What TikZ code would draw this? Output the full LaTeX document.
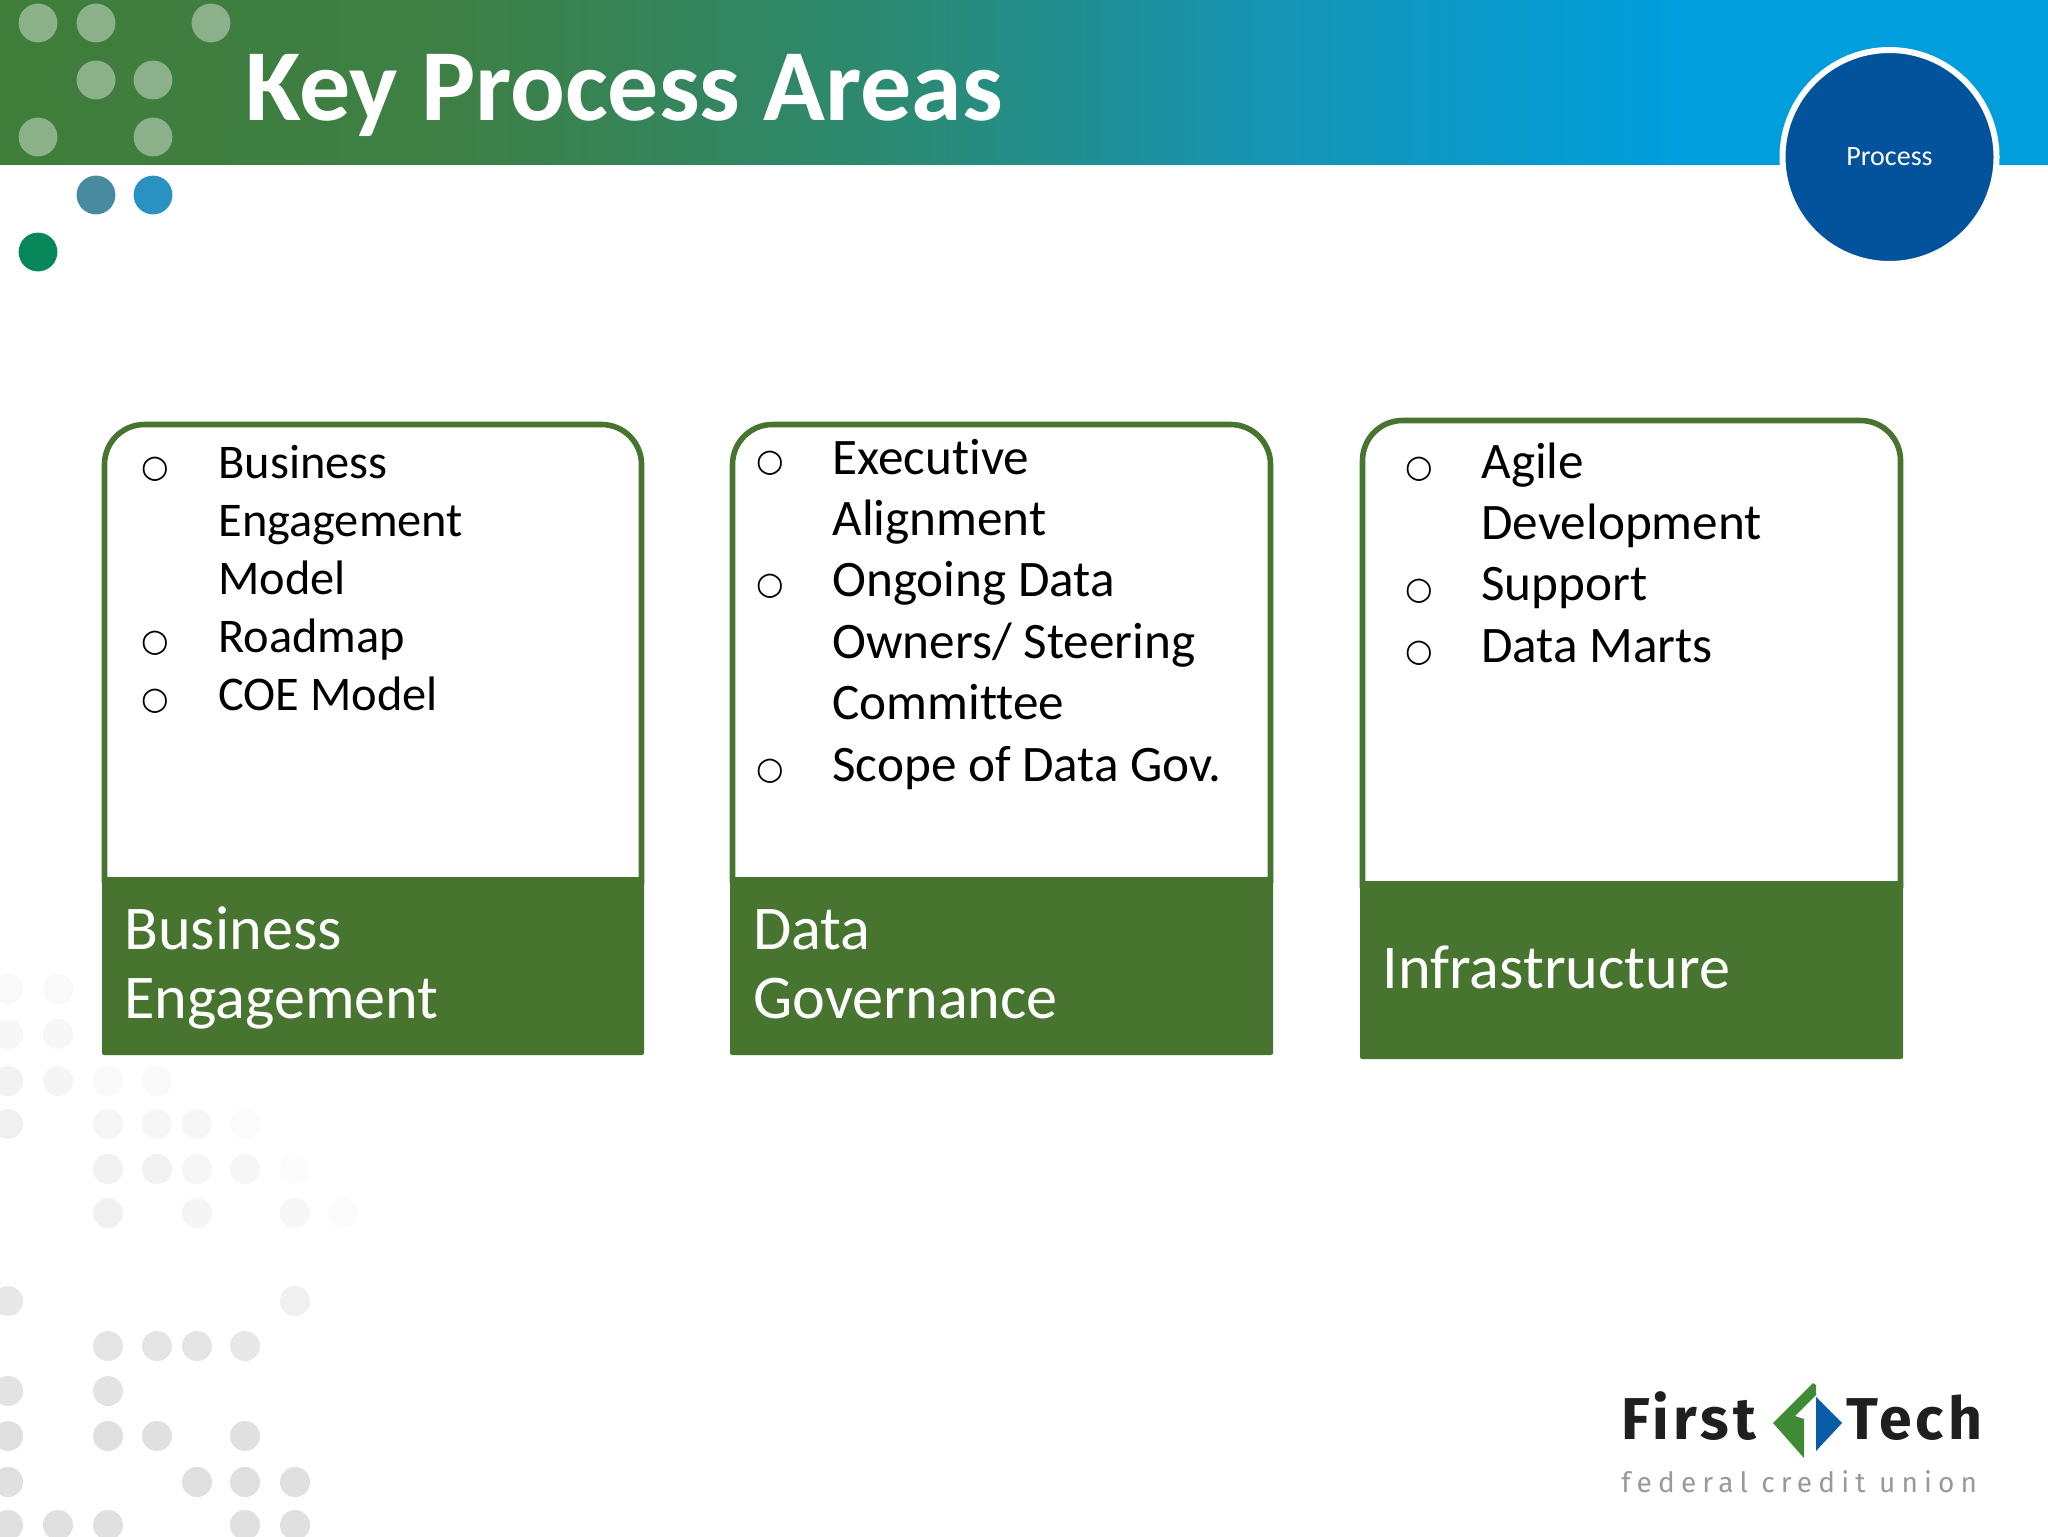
\documentclass[tikz,border=0pt]{standalone}
\usepackage{fontspec}
\setmainfont[Ligatures={NoCommon}]{Carlito}
\newfontfamily\bulletfont{DejaVu Sans}
\newfontfamily\logofont[LetterSpace=7]{Fira Sans}
\newfontfamily\logosub[LetterSpace=22]{Fira Sans}
\definecolor{hA}{HTML}{3F7D3A}
\definecolor{hB}{HTML}{3E7F45}
\definecolor{hC}{HTML}{2B8A72}
\definecolor{hD}{HTML}{1694B4}
\definecolor{hE}{HTML}{009EDC}
\definecolor{boxgreen}{HTML}{47752F}
\definecolor{procblue}{HTML}{03529C}
\definecolor{dotA}{HTML}{4A8AA0}
\definecolor{dotB}{HTML}{2A92C2}
\definecolor{dotC}{HTML}{08875A}
\definecolor{logoG}{HTML}{3F8A34}
\definecolor{logoB}{HTML}{0B5CA8}
\pgfdeclarehorizontalshading{hdr}{100bp}{color(0bp)=(hA); color(25bp)=(hA); color(36bp)=(hB); color(47bp)=(hC); color(56bp)=(hD); color(66bp)=(hE); color(100bp)=(hE)}
\tikzset{
  x=0.5pt,y=-0.5pt,
  tdot/.style={fill=white,fill opacity=0.4},
  ln/.style={anchor=base west,inner sep=0pt,text=black,font=\fontsize{24.2pt}{28pt}\selectfont},
  lnb/.style={anchor=base west,inner sep=0pt,text=black,font=\fontsize{25.6pt}{30pt}\selectfont},
  bul/.style={anchor=base,inner sep=0pt,text=black,font=\bulletfont\fontsize{15.8pt}{20pt}\selectfont},
  cardframe/.style={draw=boxgreen,line width=2.8pt,fill=white},
  footer/.style={fill=boxgreen,rounded corners=1pt},
  lab/.style={anchor=base west,inner sep=0pt,text=white,font=\fontsize{31.1pt}{36pt}\selectfont},
}
\newcommand{\gd}[3]{\foreach \xx in {#2}{\fill[#1] (\xx,#3) circle[radius=7.5pt];}}
\begin{document}
\begin{tikzpicture}
\useasboundingbox (0,0) rectangle (2048,1536);
\fill[white] (0,0) rectangle (2048,1536);
% background dots
\gd{black!2.5}{8,58}{989}
\gd{black!3}{8,58}{1034}
\gd{black!5}{8}{1081}
\gd{black!4}{58}{1081}
\gd{black!2.5}{108,157}{1081}
\gd{black!6}{8}{1124}
\gd{black!3.5}{108,157,197}{1124}
\gd{black!1.5}{245}{1124}
\gd{black!5}{108,157}{1169}
\gd{black!3.5}{197,245}{1169}
\gd{black!1}{295}{1169}
\gd{black!6}{108}{1213}
\gd{black!4}{197}{1213}
\gd{black!3}{295}{1213}
\gd{black!1.5}{343}{1213}
\gd{black!9}{8}{1301}
\gd{black!6}{295}{1301}
\gd{black!10}{108,157,197}{1346}
\gd{black!9}{245}{1346}
\gd{black!11}{8,108}{1391}
\gd{black!12}{8,108,157,245}{1436}
\gd{black!12}{8,197,245,295}{1482}
\gd{black!12}{8,58,108,245,295}{1525}
% header
\shade[shading=hdr] (0,0) rectangle (2048,164.5);
\foreach \p/\q in {38/23,96/23,211/23,96/80,153/80,38/137,153/137}{\fill[tdot] (\p,\q) circle[radius=9.7pt];}
\fill[dotA] (96,195) circle[radius=9.7pt];
\fill[dotB] (153,195) circle[radius=9.7pt];
\fill[dotC] (38,252) circle[radius=9.7pt];
\node[anchor=base west,inner sep=0pt,text=white,font=\bfseries\fontsize{51pt}{56pt}\selectfont] (title) at (245,120.5) {Key Process Areas};
% process badge
\node[circle,fill=procblue,draw=white,line width=3pt,minimum size=107pt,inner sep=0pt,text=white,font=\fontsize{14pt}{17pt}\selectfont] (badge) at (1889.5,157) {Process};
% card 1
\draw[cardframe] (104.5,880) -- (104.5,465) [rounded corners=20pt] -- (104.5,424.5) -- (641.5,424.5) [sharp corners] -- (641.5,465) -- (641.5,880) -- cycle;
\fill[footer] (102,877) rectangle (644,1055);
\node[lab] (l1a) at (124,949) {Business};
\node[lab] (l1b) at (124,1018) {Engagement};
\node[bul] (b1a) at (155,477) {○};
\node[ln] (t1a) at (218,478) {Business};
\node[ln] (t1b) at (218,536) {Engagement};
\node[ln] (t1c) at (218,594) {Model};
\node[bul] (b1b) at (155,651) {○};
\node[ln] (t1d) at (218,652) {Roadmap};
\node[bul] (b1c) at (155,709) {○};
\node[ln] (t1e) at (218,710) {COE Model};
% card 2
\draw[cardframe] (732.5,880) -- (732.5,465) [rounded corners=20pt] -- (732.5,424.5) -- (1270.5,424.5) [sharp corners] -- (1270.5,465) -- (1270.5,880) -- cycle;
\fill[footer] (730,877) rectangle (1273,1055);
\node[lab] (l2a) at (753,949) {Data};
\node[lab] (l2b) at (753,1018) {Governance};
\node[bul] (b2a) at (770,471) {○};
\node[lnb] (t2a) at (832,474) {Executive};
\node[lnb] (t2b) at (832,535.4) {Alignment};
\node[bul] (b2b) at (770,594.5) {○};
\node[lnb] (t2c) at (832,596.8) {Ongoing Data};
\node[lnb] (t2d) at (832,658.2) {Owners/ Steering};
\node[lnb] (t2e) at (832,719.6) {Committee};
\node[bul] (b2c) at (770,779) {○};
\node[lnb] (t2f) at (832,781) {Scope of Data Gov.};
% card 3
\draw[cardframe] (1362.5,885) -- (1362.5,460) [rounded corners=20pt] -- (1362.5,420.5) -- (1900.5,420.5) [sharp corners] -- (1900.5,460) -- (1900.5,885) -- cycle;
\fill[footer] (1360,881) rectangle (1903,1059);
\node[lab] (l3a) at (1382,988) {Infrastructure};
\node[bul] (b3a) at (1419,477) {○};
\node[lnb] (t3a) at (1481,478) {Agile};
\node[lnb] (t3b) at (1481,539.4) {Development};
\node[bul] (b3b) at (1419,599.8) {○};
\node[lnb] (t3c) at (1481,600.8) {Support};
\node[bul] (b3c) at (1419,661.2) {○};
\node[lnb] (t3d) at (1481,662.2) {Data Marts};
% logo
\fill[logoG] (1813,1383) -- (1816,1385) -- (1816,1395) -- (1795,1416) -- (1804,1419) -- (1804,1458) -- (1773,1423) -- cycle;
\fill[logoB] (1816,1397) -- (1842,1423) -- (1816,1451) -- cycle;
\node[anchor=base west,inner sep=0pt,text=black!88,font=\logofont\bfseries\fontsize{29.5pt}{32pt}\selectfont] (lg1) at (1621,1439) {First};
\node[anchor=base west,inner sep=0pt,text=black!88,font=\logofont\bfseries\fontsize{29.5pt}{32pt}\selectfont] (lg2) at (1846,1439) {Tech};
\node[anchor=base west,inner sep=0pt,text=black!40,font=\logosub\fontsize{14pt}{16pt}\selectfont] (lg3) at (1621,1492) {federal credit union};
\end{tikzpicture}
\end{document}
